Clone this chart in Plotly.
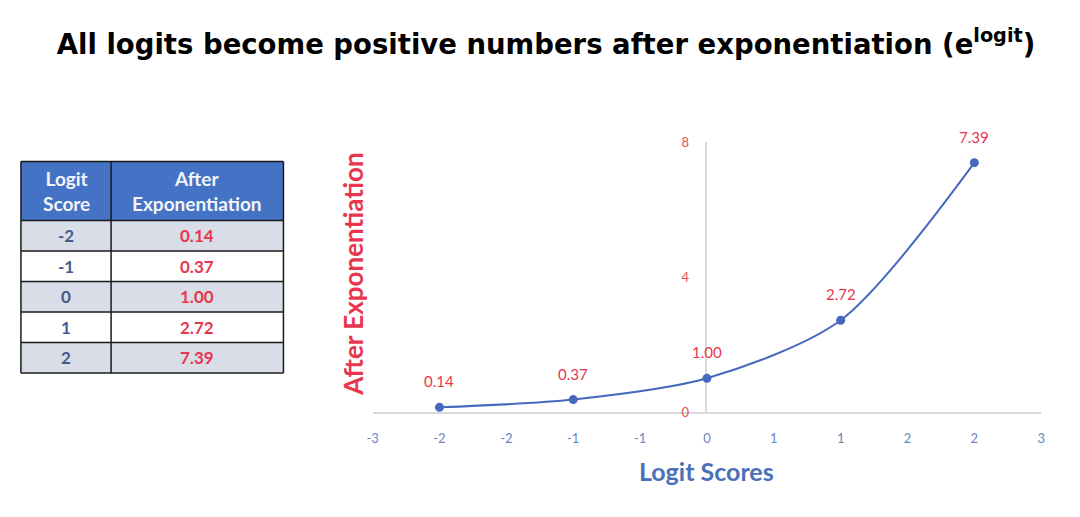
import plotly.graph_objects as go

# %% data
logit_scores = [-2, -1, 0, 1, 2]
exp_values = [0.14, 0.37, 1.00, 2.72, 7.39]
x_tickvals = [-2.5, -2, -1.5, -1, -0.5, 0, 0.5, 1, 1.5, 2, 2.5]
x_ticktext = ["-3", "-2", "-2", "-1", "-1", "0", "1", "1", "2", "2", "3"]
y_tickvals = [0, 4, 8]
table_header = ["Logit<br>Score", "After<br>Exponentiation"]

# figure sized so that page (with 8px body margin) fits the 1080x517 window
OFF = 8
W, H = 1080 - 2 * OFF, 517 - 2 * OFF - 2
RED = "#E8364E"
BLUE = "#4472C4"
FONT = "Lato"

# screen pixel -> paper fraction (measured vertical squeeze of the capture)
Y_OFF, Y_SCALE = 15.9, 0.968

def px_x(p):
    return (p - OFF) / W

def px_y(p):
    return 1 - ((p - Y_OFF) / Y_SCALE) / H

fig = go.Figure()

# %% table drawn with shapes + annotations
col_edges = [15, 106, 280]
header_top, header_bot = 161.5, 220.5
row_h = 30.5
n_rows = len(logit_scores)
bottom = header_bot + row_h * n_rows

fig.add_shape(type="rect", xref="paper", yref="paper",
              x0=px_x(col_edges[0]), x1=px_x(col_edges[-1]),
              y0=px_y(header_bot), y1=px_y(header_top),
              fillcolor=BLUE, line=dict(width=0), layer="below")
for i in range(n_rows):
    y0 = header_bot + row_h * i
    fig.add_shape(type="rect", xref="paper", yref="paper",
                  x0=px_x(col_edges[0]), x1=px_x(col_edges[-1]),
                  y0=px_y(y0 + row_h), y1=px_y(y0),
                  fillcolor="#D8DDE8" if i % 2 == 0 else "white",
                  line=dict(width=0), layer="below")
# grid lines
for i in range(n_rows + 2):
    yy = header_top if i == 0 else header_bot + row_h * (i - 1)
    fig.add_shape(type="line", xref="paper", yref="paper",
                  x0=px_x(col_edges[0]), x1=px_x(col_edges[-1]), y0=px_y(yy), y1=px_y(yy),
                  line=dict(color="#1A1A1A", width=1.5))
for xx in col_edges:
    fig.add_shape(type="line", xref="paper", yref="paper",
                  x0=px_x(xx), x1=px_x(xx), y0=px_y(bottom), y1=px_y(header_top),
                  line=dict(color="#1A1A1A", width=1.5))

col_centers = [(col_edges[0] + col_edges[1]) / 2, (col_edges[1] + col_edges[2]) / 2]

def label(x, y, text, size, color, angle=0):
    fig.add_annotation(xref="paper", yref="paper", x=px_x(x), y=px_y(y),
                       xanchor="center", yanchor="middle", align="center",
                       text=text, showarrow=False, textangle=angle,
                       font=dict(family=FONT, size=size, color=color))

for c, txt in zip(col_centers, table_header):
    label(c, (header_top + header_bot) / 2, "<b>%s</b>" % txt, 19, "#F2F4FA")
for i, (lv, ev) in enumerate(zip(logit_scores, exp_values)):
    yc = header_bot + row_h * i + row_h / 2
    label(col_centers[0], yc, "<b>%d</b>" % lv, 17, "#45598A")
    label(col_centers[1], yc, "<b>%.2f</b>" % ev, 17, RED)

# %% line chart
fig.add_trace(go.Scatter(
    x=logit_scores,
    y=exp_values,
    mode="lines+markers",
    line=dict(color="#4668BE", width=2, shape="spline", smoothing=0.8),
    marker=dict(color="#4668BE", size=9),
    cliponaxis=False,
    showlegend=False,
))

for xv, yv in zip(logit_scores, exp_values):
    fig.add_annotation(x=xv, y=yv, text="%.2f" % yv, showarrow=False,
                       xanchor="center", yanchor="middle",
                       yshift=26, font=dict(family=FONT, size=15, color=RED))

fig.update_layout(
    width=W, height=H,
    margin=dict(l=0, r=0, t=0, b=0),
    paper_bgcolor="white", plot_bgcolor="white",
    title=dict(text="<b>All logits become positive numbers after exponentiation (e<sup>logit</sup>)</b>",
               x=px_x(546), xanchor="center", y=px_y(51), yanchor="middle",
               font=dict(family="DejaVu Sans", size=27.5, color="black")),
    xaxis=dict(domain=[px_x(370), px_x(1045)], range=[-2.5, 2.5],
               tickvals=x_tickvals, ticktext=x_ticktext,
               showgrid=False, zeroline=False, showline=True,
               linecolor="#D9D9D9", linewidth=1.5, layer="below traces",
               ticklabelstandoff=14,
               tickfont=dict(family=FONT, size=13, color="#6A86C0")),
    yaxis=dict(domain=[px_y(412), px_y(142)], range=[0, 8],
               anchor="free", position=px_x(707),
               tickvals=y_tickvals, showgrid=False, zeroline=False,
               showline=True, linecolor="#D9D9D9", linewidth=1.5, layer="below traces",
               ticklabelstandoff=14,
               tickfont=dict(family=FONT, size=13, color="#D9534F")),
)

label(350, 274, "<b>After Exponentiation</b>", 26, RED, angle=-90)
label(707, 471, "<b>Logit Scores</b>", 25, "#4A70B8")

fig.write_html("out.html")
